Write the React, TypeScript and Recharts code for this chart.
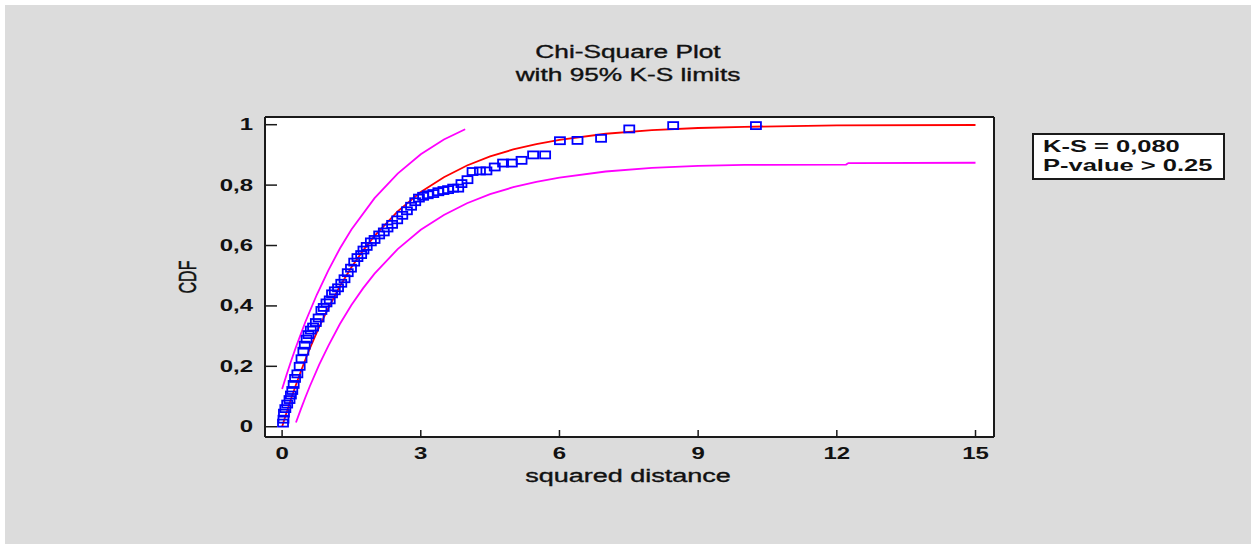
import React from "react";
import { ComposedChart, Line, Scatter, XAxis, YAxis, CartesianGrid } from "recharts";

// fitted chi-square CDF (red)
const fitX = [0, 0.05, 0.1, 0.2, 0.3, 0.4, 0.5, 0.6, 0.8, 1, 1.25, 1.5, 1.75, 2, 2.5, 3, 3.5, 4, 4.5, 5, 5.5, 6, 7, 8, 9, 10, 12, 15];
const fitY = [0, 0.025, 0.049, 0.095, 0.139, 0.181, 0.221, 0.259, 0.33, 0.393, 0.465, 0.528, 0.583, 0.632, 0.713, 0.777, 0.826, 0.865, 0.895, 0.918, 0.936, 0.95, 0.97, 0.982, 0.989, 0.993, 0.998, 0.999];

// 95% K-S limits (magenta)
const upperX = [0, 0.1, 0.2, 0.3, 0.5, 0.75, 1, 1.25, 1.5, 2, 2.5, 3, 3.5, 3.96];
const upperY = [0.125, 0.174, 0.22, 0.264, 0.346, 0.437, 0.518, 0.59, 0.653, 0.757, 0.838, 0.902, 0.951, 0.985];
const lowerX = [0.3, 0.4, 0.5, 0.6, 0.8, 1, 1.25, 1.5, 1.75, 2, 2.5, 3, 3.5, 4, 4.5, 5, 5.5, 6, 7, 8, 9, 10, 12.2, 12.25, 15];
const lowerY = [0.014, 0.056, 0.096, 0.134, 0.205, 0.268, 0.34, 0.403, 0.458, 0.507, 0.588, 0.652, 0.701, 0.74, 0.77, 0.793, 0.811, 0.825, 0.845, 0.857, 0.864, 0.867, 0.868, 0.873, 0.874];

// observed squared distances (blue squares)
const obsX = [0.02, 0.03, 0.04, 0.07, 0.11, 0.16, 0.19, 0.22, 0.25, 0.28, 0.33, 0.38, 0.42, 0.46, 0.49, 0.53, 0.57, 0.62, 0.67, 0.73, 0.79, 0.85, 0.9, 0.96, 1.03, 1.08, 1.14, 1.21, 1.28, 1.35, 1.42, 1.49, 1.56, 1.63, 1.71, 1.76, 1.83, 1.92, 2.0, 2.1, 2.2, 2.28, 2.38, 2.49, 2.6, 2.7, 2.79, 2.88, 2.96, 3.05, 3.15, 3.27, 3.38, 3.49, 3.59, 3.7, 3.81, 3.88, 4.01, 4.12, 4.28, 4.42, 4.6, 4.78, 4.97, 5.18, 5.43, 5.69, 6.01, 6.39, 6.9, 7.51, 8.46, 10.25];
const obsY = [0.012, 0.025, 0.045, 0.06, 0.075, 0.09, 0.105, 0.12, 0.14, 0.16, 0.175, 0.2, 0.225, 0.25, 0.27, 0.29, 0.305, 0.32, 0.33, 0.345, 0.36, 0.385, 0.395, 0.41, 0.42, 0.44, 0.45, 0.46, 0.475, 0.49, 0.51, 0.525, 0.545, 0.56, 0.57, 0.585, 0.597, 0.612, 0.62, 0.635, 0.645, 0.658, 0.67, 0.685, 0.7, 0.715, 0.73, 0.745, 0.757, 0.763, 0.768, 0.772, 0.778, 0.782, 0.785, 0.79, 0.79, 0.805, 0.818, 0.845, 0.847, 0.847, 0.86, 0.873, 0.873, 0.882, 0.9, 0.9, 0.947, 0.948, 0.955, 0.986, 0.997, 0.997];

const xMajor = [0, 3, 6, 9, 12, 15];
const xMinor = [0, 1, 2, 3, 4, 5, 6, 7, 8, 9, 10, 11, 12, 13, 14, 15];
const yMajor = [0, 0.2, 0.4, 0.6, 0.8, 1];
const yMinor = [0, 0.05, 0.1, 0.15, 0.2, 0.25, 0.3, 0.35, 0.4, 0.45, 0.5, 0.55, 0.6, 0.65, 0.7, 0.75, 0.8, 0.85, 0.9, 0.95, 1];

const zip = (xs: number[], ys: number[]) => xs.map((x, i) => ({ x, y: ys[i] }));
const fitData = zip(fitX, fitY);
const upperData = zip(upperX, upperY);
const lowerData = zip(lowerX, lowerY);
const obsData = zip(obsX, obsY);

const FONT = '"Liberation Sans", Arial, sans-serif';
const X_DOMAIN = [-0.37, 15.4];
const Y_DOMAIN = [-0.034, 1.0255];
const AX = 0.01; // axes take (almost) no room, plot box comes from the margins
const frame = { stroke: "#1a1a1a", strokeWidth: 2 };
const tickLn = { stroke: "#1a1a1a", strokeWidth: 1.5 };

const fmtY = (v: number) => (v === 0 ? "0" : v === 1 ? "1" : v.toFixed(1).replace(".", ","));

const YTick = ({ x, y, payload }: any) => (
  <text x={x} y={y + 5.5} textAnchor="end" fontFamily={FONT} fontSize={16} fontWeight="bold" fill="#111"
    transform={`translate(${x} 0) scale(1.5 1) translate(${-x} 0)`}>
    {fmtY(payload.value)}
  </text>
);

const XTick = ({ x, y, payload }: any) => (
  <text x={x} y={y + 22} textAnchor="middle" fontFamily={FONT} fontSize={16} fontWeight="bold" fill="#111"
    transform={`translate(${x} 0) scale(1.5 1) translate(${-x} 0)`}>
    {payload.value}
  </text>
);

const Square = ({ cx, cy }: any) => (
  <rect x={cx - 5} y={cy - 3.5} width={10} height={7} fill="none" stroke="#0000ff" strokeWidth={1.8} />
);

const stretched = (extra: React.CSSProperties): React.CSSProperties => ({
  position: "absolute",
  fontFamily: FONT,
  color: "#111",
  whiteSpace: "nowrap",
  WebkitTextStroke: "0.35px #111",
  ...extra,
});

export default function App() {
  return (
    <div style={{ position: "fixed", left: 0, top: 0, width: 1256, height: 544, background: "#fff", overflow: "hidden" }}>
      <div style={{ position: "absolute", left: 5, top: 5, width: 1246, height: 539, background: "#dcdcdc" }} />

      <div style={stretched({ left: 428, top: 42, width: 400, lineHeight: "20px", fontSize: 17.5, textAlign: "center", transform: "scaleX(1.5)" })}>
        Chi-Square Plot
      </div>
      <div style={stretched({ left: 428, top: 65, width: 400, lineHeight: "20px", fontSize: 17.5, textAlign: "center", transform: "scaleX(1.5)" })}>
        with 95% K-S limits
      </div>

      <div style={{ position: "absolute", left: 0, top: 0 }}>
        <ComposedChart width={1256} height={544} margin={{ top: 117 - 2 * AX, right: 262 - 2 * AX, bottom: 107 - 2 * AX, left: 265 - 2 * AX }}>
          <CartesianGrid xAxisId="x" yAxisId="y" horizontal={false} vertical={false} fill="#fff" />

          <XAxis xAxisId="x" type="number" dataKey="x" domain={X_DOMAIN} allowDataOverflow ticks={xMajor} interval={0}
            orientation="bottom" height={AX} axisLine={frame} tickLine={tickLn} tickSize={-7} tickMargin={7} tick={<XTick />} />
          <XAxis xAxisId="xm" type="number" dataKey="x" domain={X_DOMAIN} allowDataOverflow ticks={xMinor} interval={0}
            orientation="bottom" height={AX} axisLine={false} tickLine={tickLn} tickSize={-3.5} tick={false} />
          <XAxis xAxisId="xt" type="number" dataKey="x" domain={X_DOMAIN} allowDataOverflow ticks={xMajor} interval={0}
            orientation="top" height={AX} axisLine={frame} tickLine={tickLn} tickSize={-7} tick={false} />
          <XAxis xAxisId="xtm" type="number" dataKey="x" domain={X_DOMAIN} allowDataOverflow ticks={xMinor} interval={0}
            orientation="top" height={AX} axisLine={false} tickLine={tickLn} tickSize={-3.5} tick={false} />

          <YAxis yAxisId="y" type="number" dataKey="y" domain={Y_DOMAIN} allowDataOverflow ticks={yMajor} interval={0}
            orientation="left" width={AX} axisLine={frame} tickLine={tickLn} tickSize={-12} tickMargin={24} tick={<YTick />} />
          <YAxis yAxisId="ym" type="number" dataKey="y" domain={Y_DOMAIN} allowDataOverflow ticks={yMinor} interval={0}
            orientation="left" width={AX} axisLine={false} tickLine={tickLn} tickSize={-6} tick={false} />
          <YAxis yAxisId="yr" type="number" dataKey="y" domain={Y_DOMAIN} allowDataOverflow ticks={yMajor} interval={0}
            orientation="right" width={AX} axisLine={frame} tickLine={tickLn} tickSize={-14} tick={false} />
          <YAxis yAxisId="yrm" type="number" dataKey="y" domain={Y_DOMAIN} allowDataOverflow ticks={yMinor} interval={0}
            orientation="right" width={AX} axisLine={false} tickLine={tickLn} tickSize={-7} tick={false} />

          <Line xAxisId="x" yAxisId="y" data={upperData} dataKey="y" type="linear" stroke="#ff00ff" strokeWidth={1.8} dot={false} isAnimationActive={false} />
          <Line xAxisId="x" yAxisId="y" data={lowerData} dataKey="y" type="linear" stroke="#ff00ff" strokeWidth={1.8} dot={false} isAnimationActive={false} />
          <Line xAxisId="x" yAxisId="y" data={fitData} dataKey="y" type="linear" stroke="#ff0000" strokeWidth={1.8} dot={false} isAnimationActive={false} />
          <Scatter xAxisId="x" yAxisId="y" data={obsData} dataKey="y" shape={<Square />} isAnimationActive={false} />
        </ComposedChart>
      </div>

      <div style={stretched({ left: 428, top: 466, width: 400, lineHeight: "20px", fontSize: 18, textAlign: "center", transform: "scaleX(1.5)" })}>
        squared distance
      </div>
      <div style={stretched({ left: 138, top: 267, width: 100, lineHeight: "20px", fontSize: 16, textAlign: "center", transform: "rotate(-90deg) scaleY(1.5)" })}>
        CDF
      </div>

      <div style={{ position: "absolute", left: 1032, top: 133, width: 189, height: 43, background: "#fff", border: "2px solid #1a1a1a" }}>
        <div style={stretched({ left: 9, top: 2, lineHeight: "19px", fontSize: 17, fontWeight: "bold", WebkitTextStroke: "0px", transform: "scaleX(1.5)", transformOrigin: "left center" })}>
          K-S = 0,080
        </div>
        <div style={stretched({ left: 9, top: 21, lineHeight: "19px", fontSize: 17, fontWeight: "bold", WebkitTextStroke: "0px", transform: "scaleX(1.5)", transformOrigin: "left center" })}>
          P-value &gt; 0.25
        </div>
      </div>
    </div>
  );
}
